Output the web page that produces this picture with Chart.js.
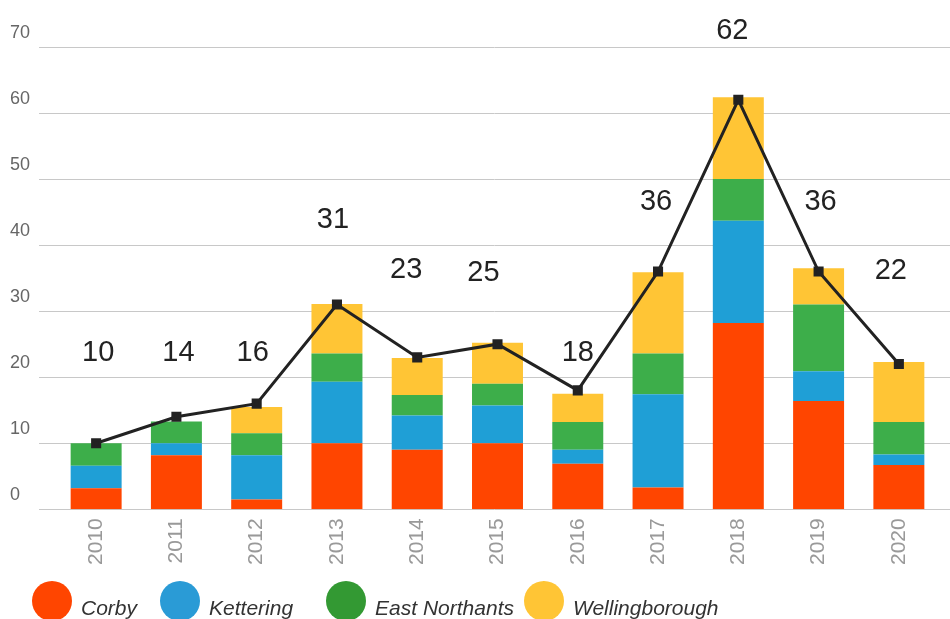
<!DOCTYPE html>
<html>
<head>
<meta charset="utf-8">
<script src="https://cdn.jsdelivr.net/npm/chart.js@4"></script>
<style>
  html, body { margin: 0; padding: 0; background: #fff; overflow: hidden; }
  #wrap { position: relative; width: 950px; height: 619px; }
  #legend { position: absolute; left: 32px; top: 581px; display: flex; align-items: flex-start;
            font-family: "Liberation Sans", Arial, sans-serif; font-style: italic; font-size: 21px; color: #333; }
  #legend .item { display: flex; align-items: flex-start; }
  #legend .dot { width: 40px; height: 40px; border-radius: 50%; margin-right: 9px; }
  #legend .txt { padding-top: 15px; }
</style>
</head>
<body>
<div id="wrap">
  <canvas id="chart" width="950" height="619"></canvas>
  <div id="legend"></div>
</div>
<script>
// データ
var years = ["2010", "2011", "2012", "2013", "2014", "2015", "2016", "2017", "2018", "2019", "2020"];
var corby = [3.2, 8.2, 1.5, 10, 9, 10, 6.9, 3.3, 28.2, 16.4, 6.7];
var kettering = [3.4, 1.8, 6.7, 9.3, 5.2, 5.7, 2.1, 14.1, 15.5, 4.5, 1.6];
var eastNorthants = [3.4, 3.3, 3.3, 4.3, 3.1, 3.3, 4.2, 6.2, 6.3, 10.1, 4.9];
var wellingborough = [0, 0, 4.0, 7.5, 5.6, 6.2, 4.3, 12.3, 12.4, 5.5, 9.1];
var totals = [10, 14, 16, 31, 23, 25, 18, 36, 62, 36, 22];
var yTicks = [0, 10, 20, 30, 40, 50, 60, 70];

var FONT = "'Liberation Sans', Arial, sans-serif";

// 背景のグリッド線と目盛（グラフ幅より広く描く）
var gridPlugin = {
  id: "wideGrid",
  beforeDatasetsDraw: function (chart) {
    var c = chart.ctx, y = chart.scales.y;
    c.save();
    c.strokeStyle = "#c8c8c8";
    c.lineWidth = 1;
    c.fillStyle = "#666";
    c.font = "18px " + FONT;
    c.textAlign = "left";
    c.textBaseline = "middle";
    yTicks.forEach(function (v) {
      var py = Math.round(y.getPixelForValue(v)) + 0.5;
      c.beginPath();
      c.moveTo(39, py);
      c.lineTo(950, py);
      c.stroke();
      c.fillText(String(v), 10, py - 14);
    });
    c.restore();
  }
};

// 合計値のラベル
var totalLabels = {
  id: "totalLabels",
  afterDatasetsDraw: function (chart, args, opts) {
    var c = chart.ctx;
    var meta = chart.getDatasetMeta(4);
    c.save();
    c.fillStyle = "#222";
    c.font = "29px " + FONT;
    c.textAlign = "center";
    c.textBaseline = "middle";
    meta.data.forEach(function (pt, i) {
      c.fillText(String(totals[i]), pt.x + opts.dx[i], pt.y + opts.dy[i]);
    });
    c.restore();
  }
};

var ctx = document.getElementById("chart");
var chart = new Chart(ctx, {
  type: "bar",
  data: {
    labels: years,
    datasets: [
      { label: "Corby", data: corby, backgroundColor: "#ff4500", order: 1 },
      { label: "Kettering", data: kettering, backgroundColor: "#1f9fd6", order: 1 },
      { label: "East Northants", data: eastNorthants, backgroundColor: "#3dae4a", order: 1 },
      { label: "Wellingborough", data: wellingborough, backgroundColor: "#ffc535", order: 1 },
      {
        type: "line",
        label: "Total",
        data: totals,
        stack: "total",
        order: 0,
        borderColor: "#222",
        borderWidth: 3,
        pointStyle: "rect",
        pointRadius: 5,
        pointBackgroundColor: "#222",
        pointBorderColor: "#222",
        tension: 0
      }
    ]
  },
  options: {
    responsive: false,
    animation: false,
    layout: { padding: { top: 47, left: 56, right: 11, bottom: 53 } },
    datasets: { bar: { barPercentage: 0.635, categoryPercentage: 1 } },
    plugins: {
      legend: { display: false },
      tooltip: { enabled: false },
      totalLabels: {
        dx: [2, 2, -4, -4, -11, -14, 0, -2, -6, 2, -8],
        dy: [-90, -64, -51, -85, -87, -71, -37, -70, -69, -70, -93]
      }
    },
    scales: {
      x: {
        stacked: true,
        grid: { display: false },
        border: { display: false },
        ticks: {
          minRotation: 90,
          maxRotation: 90,
          padding: 1,
          color: "#999",
          font: { family: FONT, size: 21 }
        }
      },
      y: {
        stacked: true,
        display: false,
        min: 0,
        max: 70
      }
    }
  },
  plugins: [gridPlugin, totalLabels]
});

// 凡例（円マーカー）
var legendColors = ["#ff4500", "#2a9bd6", "#339933", "#ffc535"];
var legendGaps = [23, 33, 10, 0];
var legend = document.getElementById("legend");
chart.data.datasets.slice(0, 4).forEach(function (ds, i) {
  var item = document.createElement("div");
  item.className = "item";
  item.style.marginRight = legendGaps[i] + "px";
  var dot = document.createElement("div");
  dot.className = "dot";
  dot.style.background = legendColors[i];
  var txt = document.createElement("div");
  txt.className = "txt";
  txt.textContent = ds.label;
  item.appendChild(dot);
  item.appendChild(txt);
  legend.appendChild(item);
});
</script>
</body>
</html>
